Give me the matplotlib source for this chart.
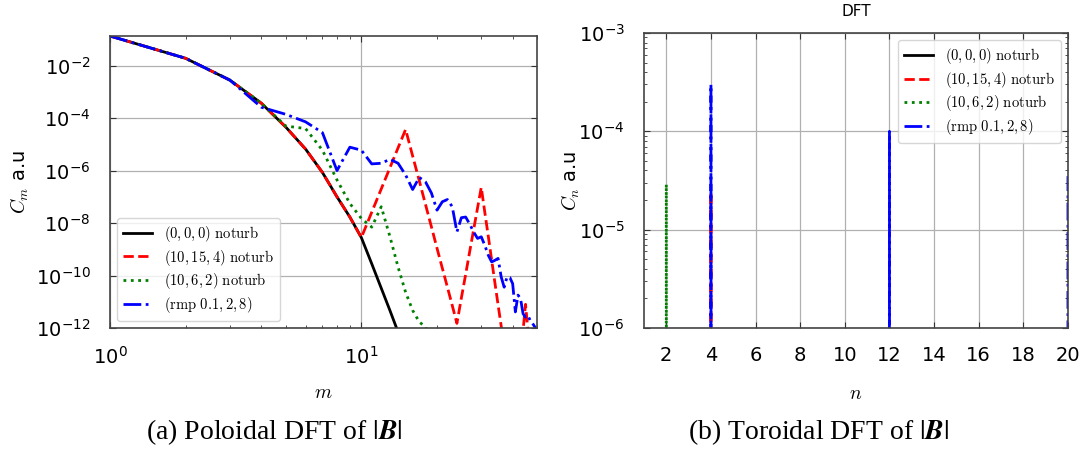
import matplotlib
matplotlib.use('Agg')
import matplotlib.pyplot as plt
import matplotlib.ticker as mticker
import numpy as np

# poloidal spectrum, m = 1..N
m_black = list(range(1, 17))
c_black = [1.35e-1, 1.9e-2, 2.8e-3, 3.7e-4, 4.6e-5, 6.6e-6, 8.5e-7, 1.0e-7,
           1.7e-8, 2.8e-9, 2.8e-10, 3.3e-11, 4.6e-12, 7.0e-13, 1.2e-13, 2.0e-14]

m_red = list(range(1, 51))
c_red = [1.35e-1, 1.9e-2, 2.8e-3, 3.7e-4, 4.6e-5, 6.6e-6, 8.5e-7, 1.0e-7,
         1.7e-8, 2.8e-9, 2.6e-8, 2.0e-7, 1.3e-6, 7.4e-6, 3.7e-5, 3.6e-6,
         4.1e-7, 5.1e-8, 7.2e-9, 1.1e-9, 1.9e-10, 3.6e-11, 7.2e-12, 1.5e-12,
         1.4e-11, 1.1e-10, 8.5e-10, 5.9e-9, 3.8e-8, 2.3e-7, 2.5e-8, 3.1e-9,
         3.9e-10, 5.2e-11, 7.6e-12, 1.2e-12, 2.0e-13, 5.0e-14, 2.0e-14, 1.0e-14,
         1.0e-14, 3.0e-14, 1.0e-13, 8.0e-13, 8.0e-12, 8.0e-13, 5.0e-14, 2.0e-14,
         2.0e-14, 2.0e-14]

m_green = list(range(1, 21))
c_green = [1.35e-1, 1.9e-2, 2.8e-3, 3.7e-4, 5.0e-5, 4.0e-5, 6.0e-6, 4.4e-7,
           5.6e-8, 1.5e-8, 7.0e-9, 4.2e-8, 3.0e-9, 2.1e-10, 2.3e-11, 4.7e-12,
           1.7e-12, 1.1e-12, 3.0e-13, 1.0e-13]

m_blue = list(range(1, 51))
c_blue = [1.35e-1, 1.9e-2, 2.8e-3, 2.6e-4, 1.4e-4, 7.2e-5, 2.8e-5, 1.0e-6,
          7.8e-6, 6.0e-6, 1.8e-6, 1.9e-6, 2.7e-6, 1.9e-6, 6.8e-7, 1.9e-7,
          5.5e-7, 3.7e-7, 1.4e-7, 3.1e-8, 6.5e-8, 7.9e-8, 4.2e-8, 4.6e-9,
          1.6e-8, 1.7e-8, 9.0e-9, 4.5e-9, 2.6e-9, 3.0e-9, 1.4e-9, 5.9e-10,
          3.3e-10, 3.8e-10, 4.5e-10, 8.9e-11, 3.6e-11, 8.9e-11, 8.3e-11, 4.9e-11,
          4.1e-12, 1.8e-11, 1.3e-11, 3.5e-12, 2.6e-12, 3.0e-12, 1.9e-12, 1.5e-12,
          1.1e-12, 6.0e-13]

# toroidal spectrum, n = 0..20 (zeros drop off the log axis)
n_vals = list(range(0, 21))
t_black = [0.0] * 21
t_red = [0, 0, 0, 0, 2.4e-5, 0, 0, 0, 0, 0, 0, 0, 0, 0, 0, 0, 0, 0, 0, 0, 0]
t_green = [0, 0, 2.9e-5, 0, 0, 0, 0, 0, 0, 0, 0, 0, 0, 0, 0, 0, 0, 0, 0, 0, 0]
t_blue = [0, 0, 0, 0, 3.0e-4, 0, 0, 0, 0, 0, 0, 0, 1.0e-4, 0, 0, 0, 0, 0, 0, 0, 3.5e-5]

labels = [r'$(0,0,0)\ \mathrm{noturb}$', r'$(10,15,4)\ \mathrm{noturb}$',
          r'$(10,6,2)\ \mathrm{noturb}$', r'$(\mathrm{rmp}\ 0.1,2,8)$']
colors = ['k', 'r', 'g', 'b']
styles = ['-', '--', ':', '-.']

fig = plt.figure(figsize=(10.86, 4.55), dpi=100)
ax1 = fig.add_axes([0.1013, 0.2791, 0.3932, 0.6418])
ax2 = fig.add_axes([0.5930, 0.2791, 0.3904, 0.6484])

for x, y, c, s, lab in zip([m_black, m_red, m_green, m_blue],
                           [c_black, c_red, c_green, c_blue], colors, styles, labels):
    ax1.plot(x, y, color=c, linestyle=s, lw=2, label=lab)

for y, c, s, lab in zip([t_black, t_red, t_green, t_blue], colors, styles, labels):
    ax2.plot(n_vals, y, color=c, linestyle=s, lw=2, label=lab)

ax1.set_xscale('log')
ax1.set_yscale('log')
ax1.set_xlim(1, 50)
ax1.set_ylim(1e-12, 1.35e-1)
ax1.set_yticks([1e-12, 1e-10, 1e-8, 1e-6, 1e-4, 1e-2])
ax1.yaxis.set_minor_locator(mticker.NullLocator())
ax1.xaxis.set_minor_formatter(mticker.NullFormatter())

ax2.set_yscale('log')
ax2.set_xlim(1, 20)
ax2.set_ylim(1e-6, 1e-3)
ax2.set_xticks(range(2, 21, 2))
ax2.yaxis.set_minor_formatter(mticker.NullFormatter())

for ax in (ax1, ax2):
    ax.grid(True, which='major', color='#b0b0b0', lw=0.9)
    ax.tick_params(which='both', direction='in', top=True, right=True,
                   labelsize=14, colors='#333333', labelcolor='black')
    ax.tick_params(axis='x', which='major', pad=13, length=4)
    ax.tick_params(axis='y', which='major', pad=14, length=4)
    ax.tick_params(which='minor', length=2)
    for sp in ax.spines.values():
        sp.set_color('#444444')
        sp.set_linewidth(1.2)

ax1.set_xlabel(r'$m$', fontsize=14, math_fontfamily='cm')
ax1.set_ylabel(r'$C_m$ a.u', fontsize=14, math_fontfamily='cm')
ax1.xaxis.set_label_coords(0.5, -0.19)
ax1.yaxis.set_label_coords(-0.185, 0.5)

ax2.set_xlabel(r'$n$', fontsize=14, math_fontfamily='cm')
ax2.set_ylabel(r'$C_n$ a.u', fontsize=14, math_fontfamily='cm')
ax2.xaxis.set_label_coords(0.5, -0.19)
ax2.yaxis.set_label_coords(-0.146, 0.5)

leg1 = ax1.legend(loc='lower left', fontsize=10.5, labelspacing=0.25)
leg2 = ax2.legend(loc='upper right', fontsize=10.5, labelspacing=0.25)
for leg in (leg1, leg2):
    for t in leg.get_texts():
        t.set_math_fontfamily('cm')

fig.text(856 / 1086, 1 - 12 / 455, 'DFT', ha='center', va='center', fontsize=11)

fig.text(0.2523, 0.05, r'(a) Poloidal DFT of $|\mathbfit{B}|$', ha='center', va='center',
         fontsize=20, family='Liberation Serif', math_fontfamily='stix')
fig.text(0.754, 0.05, r'(b) Toroidal DFT of $|\mathbfit{B}|$', ha='center', va='center',
         fontsize=20, family='Liberation Serif', math_fontfamily='stix')

fig.savefig('out.png', dpi=100)
